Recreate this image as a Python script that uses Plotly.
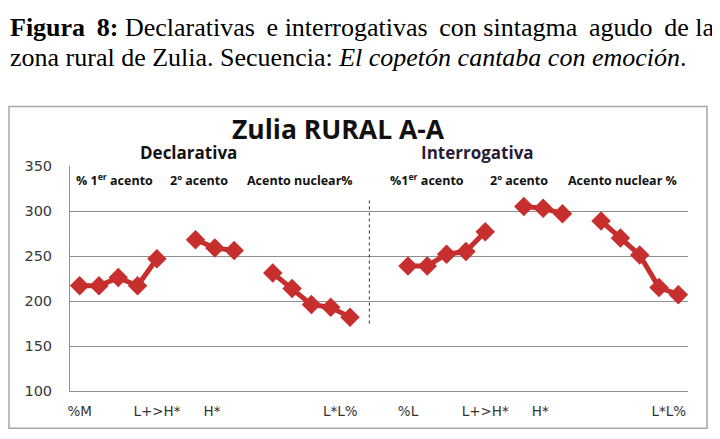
import plotly.graph_objects as go

# F0 values (Hz), one list per sentence type
declarativa = [217, 217, 226, 217, 247, None, 268, 259, 256, None, 231, 214, 196, 193, 182]
interrogativa = [239, 239, 252, 255, 277, None, 305, 303, 297, None, 289, 270, 251, 215, 207]
separacion = [None, None]

tick_pos = [0, 4, 6.85, 13.5, 17, 21, 23.85, 30.5]
tick_text = ["%M", "L+>H*", "H*", "L*L%", "%L", "L+>H*", "H*", "L*L%"]

zonas = ["% 1<sup>er</sup> acento", "2º acento", "Acento nuclear%",
         "%1<sup>er</sup> acento", "2º acento", "Acento nuclear %"]
zonas_x = [1.78, 6.2, 11.4, 18.0, 22.75, 28.1]

valores = declarativa + separacion + interrogativa
x = list(range(len(valores)))

rojo = "#c62f2d"
gris = "#8f8f8f"
sp = "\u2009"  # thin space, to stretch the first caption line

fig = go.Figure()
fig.add_trace(go.Scatter(
    x=x, y=valores, mode="lines+markers",
    line=dict(color=rojo, width=5),
    marker=dict(symbol="diamond", size=15, color=rojo),
    connectgaps=False, hoverinfo="skip"))

# dashed separator between the two sentence types
fig.add_shape(type="line", x0=15, x1=15, y0=175, y1=312, xref="x", yref="y",
              line=dict(color="#333333", width=1, dash="dot"))

# outer chart frame
fig.add_shape(type="rect", xref="paper", yref="paper",
              x0=-0.0987, x1=1.0307, y0=-0.1658, y1=1.265,
              line=dict(color="#a6a6a6", width=1.5))

ann = []
ann.append(dict(text="<b>Zulia RURAL A-A</b>", x=0.434, y=1.165, xref="paper", yref="paper",
                showarrow=False, font=dict(family="Open Sans", size=26.5, color="#111111"),
                xanchor="center", yanchor="middle"))
ann.append(dict(text="<b>Declarativa</b>", x=0.191, y=1.058, xref="paper", yref="paper",
                showarrow=False, font=dict(family="Open Sans", size=17, color="#111111"),
                xanchor="center", yanchor="middle"))
ann.append(dict(text="<b>Interrogativa</b>", x=0.660, y=1.058, xref="paper", yref="paper",
                showarrow=False, font=dict(family="Open Sans", size=17, color="#2a1c35"),
                xanchor="center", yanchor="middle"))
for t, xp in zip(zonas, zonas_x):
    ann.append(dict(text="<b>" + t + "</b>", x=xp, y=0.936, xref="x", yref="paper",
                    showarrow=False, font=dict(family="Open Sans", size=12.5, color="#111111"),
                    xanchor="center", yanchor="middle"))

# caption above the chart
linea1 = ("<b>Figura" + sp + " 8:</b> Declarativas " + sp + "e interrogativas " + sp +
          "con sintagma " + sp + "agudo " + sp + "de la")
ann.append(dict(text=linea1,
                x=-0.101, y=1.616, xref="paper", yref="paper", showarrow=False,
                font=dict(family="Liberation Serif", size=26, color="#000000"),
                xanchor="left", yanchor="middle"))
ann.append(dict(text="zona rural de Zulia. Secuencia: <i>El copetón cantaba con emoción</i>.",
                x=-0.101, y=1.483, xref="paper", yref="paper", showarrow=False,
                font=dict(family="Liberation Serif", size=26, color="#000000"),
                xanchor="left", yanchor="middle"))

# margins account for the 8px page margin of the browser
fig.update_layout(
    width=720, height=439,
    margin=dict(l=62, r=40, t=158, b=56),
    paper_bgcolor="white", plot_bgcolor="white",
    showlegend=False,
    annotations=ann,
    xaxis=dict(range=[-0.5, 31.5], tickvals=tick_pos, ticktext=tick_text,
               showgrid=False, zeroline=False, showline=True, linecolor=gris,
               ticks="", tickfont=dict(family="DejaVu Sans", size=13.5, color="#333333"),
               ticklabelstandoff=8),
    yaxis=dict(range=[100, 350], tickvals=[100, 150, 200, 250, 300, 350],
               showgrid=True, gridcolor=gris, gridwidth=1, zeroline=False,
               showline=True, linecolor=gris, ticks="",
               tickfont=dict(family="DejaVu Sans", size=14.5, color="#383838"),
               ticklabelstandoff=14),
)

fig.write_html("out.html")
